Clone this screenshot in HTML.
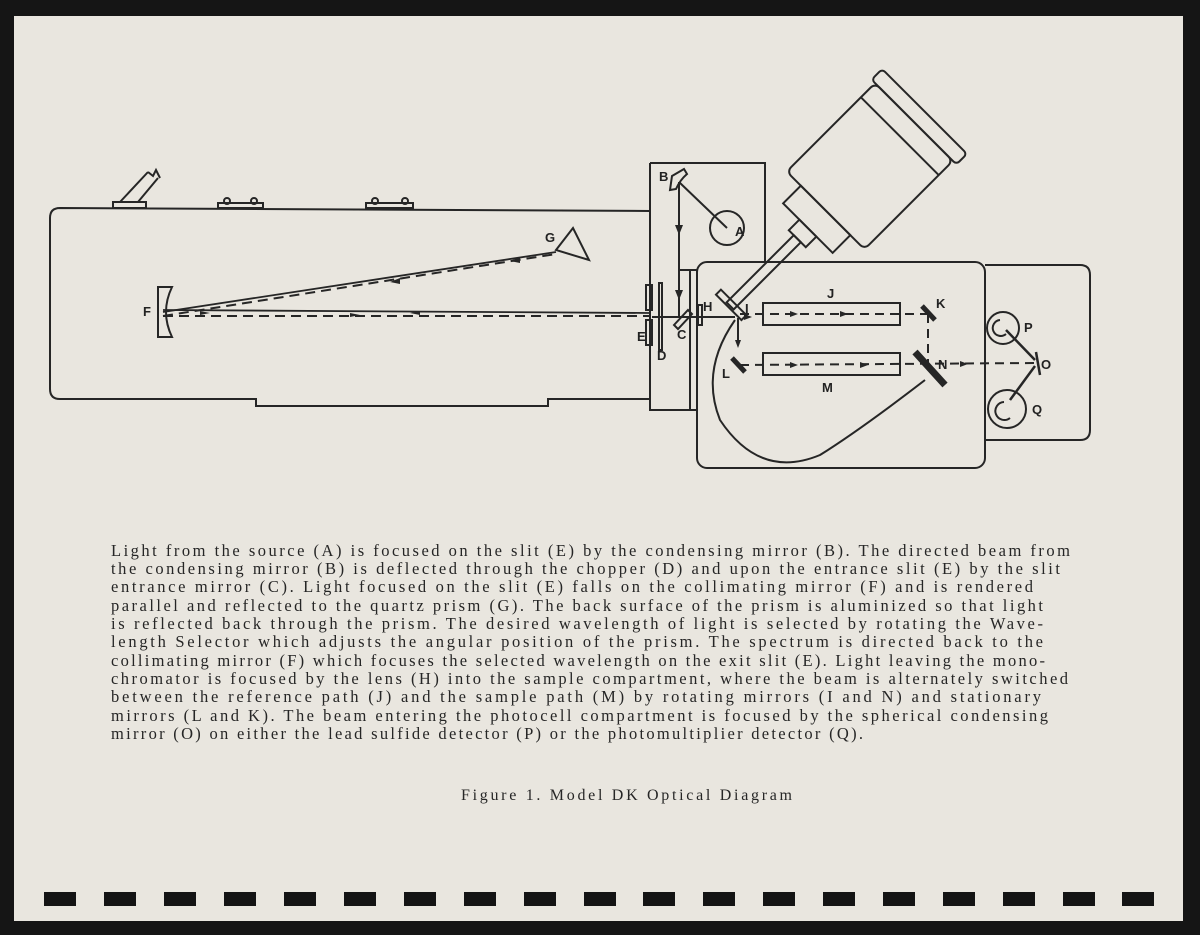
<!DOCTYPE html>
<html><head><meta charset="utf-8"><style>
html,body{margin:0;padding:0;background:#141414;}
svg{display:block}
</style></head><body>
<svg width="1200" height="935" viewBox="0 0 1200 935" xmlns="http://www.w3.org/2000/svg">
<rect x="0" y="0" width="1200" height="935" fill="#151515"/>
<rect x="14" y="16" width="1169" height="905" fill="#e9e6df"/>
<g fill="none" stroke="#262626" stroke-width="2">
<path d="M60,208 L650,211 L650,399 L548,399 L548,406 L256,406 L256,399 L60,399 Q50,399 50,389 L50,218 Q50,208 60,208 Z"/>
<rect x="113" y="202" width="33" height="6"/>
<path d="M120,202 L148,172 M138,202 L158,178 M148,172 L153,176 L156,170 L160,178"/>
<rect x="218" y="203" width="45" height="5"/><circle cx="227" cy="201" r="3"/><circle cx="254" cy="201" r="3"/>
<rect x="366" y="203" width="47" height="5"/><circle cx="375" cy="201" r="3"/><circle cx="405" cy="201" r="3"/>
<path d="M158,287 L172,287 Q160,312 172,337 L158,337 Z"/>
<path d="M556,250 L573,228 L589,260 Z"/>
<path d="M163,312 L556,252" stroke-width="1.8"/>
<path d="M163,316 L556,254" stroke-dasharray="10,6"/>
<path d="M163,310 L650,313" stroke-width="1.8"/>
<path d="M163,316 L650,316" stroke-dasharray="10,6"/>
<path d="M650,163 L765,163 L765,262 M650,163 L650,410 L697,410"/>
<path d="M690,270 L690,410 M697,270 L697,410 M680,270 L697,270"/>
<rect x="646" y="285" width="6" height="25"/><rect x="646" y="320" width="6" height="25"/>
<rect x="659" y="283" width="3" height="67"/>
<circle cx="727" cy="228" r="17"/>
<path d="M672,176 L684,169 L687,174 Q680,180 676,189 L670,190 Z"/>
<path d="M679,182 L727,228 M679,182 L679,318"/>
<path d="M674,325 L688,310 L692,314 L678,329 Z"/>
<rect x="698" y="305" width="4" height="20"/>
<path d="M652,317 L735,317"/>
<rect x="697" y="262" width="288" height="206" rx="10"/>
<path d="M985,265 L1080,265 Q1090,265 1090,275 L1090,430 Q1090,440 1080,440 L985,440"/>
<rect x="763" y="303" width="137" height="22"/>
<rect x="763" y="353" width="137" height="22"/>
<path d="M740,314 L928,314 M928,314 L928,365 M740,365 L1035,363" stroke-dasharray="9,6"/>
<path d="M738,318 L738,345"/>
<path d="M922,306 L935,320 M732,358 L745,372" stroke-width="5"/>
<path d="M915,352 L945,385" stroke-width="7"/>
<path d="M925,380 Q860,430 820,455 Q760,480 720,420 Q700,370 735,320"/>
<circle cx="1003" cy="328" r="16"/><circle cx="1007" cy="409" r="19"/>
<path d="M1000,320 A8,8 0 1 0 1006,334 M1004,402 A9,9 0 1 0 1010,418"/>
<path d="M1006,330 L1035,360 M1035,366 L1010,400 M1036,352 L1040,375" stroke-width="2.5"/>
<g transform="translate(868,168) rotate(45)">
<rect x="-55" y="-65" width="110" height="125" rx="6"/>
<rect x="-60" y="-80" width="120" height="15" rx="4"/>
<path d="M-55,-45 L55,-45"/>
<rect x="-35" y="60" width="70" height="25"/>
<rect x="-12" y="85" width="24" height="15"/>
<rect x="-5" y="100" width="10" height="95"/>
<rect x="-18" y="190" width="36" height="7"/>
</g>
</g>
<g fill="#262626">
<path d="M520,257 L510,261 L520,263Z M400,278 L390,282 L400,284Z M200,311 L210,313 L200,315Z M350,313 L360,315 L350,317Z M420,311 L410,313 L420,315Z M744,314 L752,317 L744,320Z M790,311 L798,314 L790,317Z M840,311 L848,314 L840,317Z M790,362 L798,365 L790,368Z M860,362 L868,365 L860,368Z M960,361 L968,364 L960,367Z M675,225 L679,235 L683,225Z M675,290 L679,300 L683,290Z M735,340 L738,348 L741,340Z"/>
</g>
<g font-family="Liberation Sans, sans-serif" font-weight="bold" font-size="13" fill="#222">
<text x="143" y="316">F</text><text x="545" y="242">G</text><text x="659" y="181">B</text>
<text x="735" y="236">A</text><text x="637" y="341">E</text><text x="657" y="360">D</text>
<text x="677" y="339">C</text><text x="703" y="311">H</text><text x="745" y="313">I</text>
<text x="827" y="298">J</text><text x="936" y="308">K</text><text x="722" y="378">L</text>
<text x="822" y="392">M</text><text x="938" y="369">N</text><text x="1024" y="332">P</text>
<text x="1041" y="369">O</text><text x="1032" y="414">Q</text>
</g>
<g font-family="Liberation Serif, serif" font-size="16.5" fill="#262626">
<text x="111" y="556" textLength="959" lengthAdjust="spacing">Light from the source (A) is focused on the slit (E) by the condensing mirror (B).  The directed beam from</text>
<text x="111" y="574" textLength="949" lengthAdjust="spacing">the condensing mirror (B) is deflected through the chopper (D) and upon the entrance slit (E) by the slit</text>
<text x="111" y="592" textLength="922" lengthAdjust="spacing">entrance mirror (C).  Light focused on the slit (E) falls on the collimating mirror (F) and is rendered</text>
<text x="111" y="611" textLength="932" lengthAdjust="spacing">parallel and reflected to the quartz prism (G).  The back surface of the prism is aluminized so that light</text>
<text x="111" y="629" textLength="932" lengthAdjust="spacing">is reflected back through the prism.  The desired wavelength of light is selected by rotating the Wave-</text>
<text x="111" y="647" textLength="932" lengthAdjust="spacing">length Selector which adjusts the angular position of the prism.  The spectrum is directed back to the</text>
<text x="111" y="666" textLength="934" lengthAdjust="spacing">collimating mirror (F) which focuses the selected wavelength on the exit slit (E).  Light leaving the mono-</text>
<text x="111" y="684" textLength="957" lengthAdjust="spacing">chromator is focused by the lens (H) into the sample compartment, where the beam is alternately switched</text>
<text x="111" y="702" textLength="930" lengthAdjust="spacing">between the reference path (J) and the sample path (M) by rotating mirrors (I and N) and stationary</text>
<text x="111" y="721" textLength="937" lengthAdjust="spacing">mirrors (L and K).  The beam entering the photocell compartment is focused by the spherical condensing</text>
<text x="111" y="739" textLength="752" lengthAdjust="spacing">mirror (O) on either the lead sulfide detector (P) or the photomultiplier detector (Q).</text>
<text x="461" y="800" font-size="16" textLength="331" lengthAdjust="spacing">Figure 1.  Model DK Optical Diagram</text>
</g>
<g fill="#141414">
<rect x="44" y="892" width="32" height="14"/><rect x="104" y="892" width="32" height="14"/><rect x="164" y="892" width="32" height="14"/>
<rect x="224" y="892" width="32" height="14"/><rect x="284" y="892" width="32" height="14"/><rect x="344" y="892" width="32" height="14"/>
<rect x="404" y="892" width="32" height="14"/><rect x="464" y="892" width="32" height="14"/><rect x="524" y="892" width="32" height="14"/>
<rect x="584" y="892" width="32" height="14"/><rect x="643" y="892" width="32" height="14"/><rect x="703" y="892" width="32" height="14"/>
<rect x="763" y="892" width="32" height="14"/><rect x="823" y="892" width="32" height="14"/><rect x="883" y="892" width="32" height="14"/>
<rect x="943" y="892" width="32" height="14"/><rect x="1003" y="892" width="32" height="14"/><rect x="1063" y="892" width="32" height="14"/>
<rect x="1122" y="892" width="32" height="14"/>
</g>
</svg>
</body></html>
